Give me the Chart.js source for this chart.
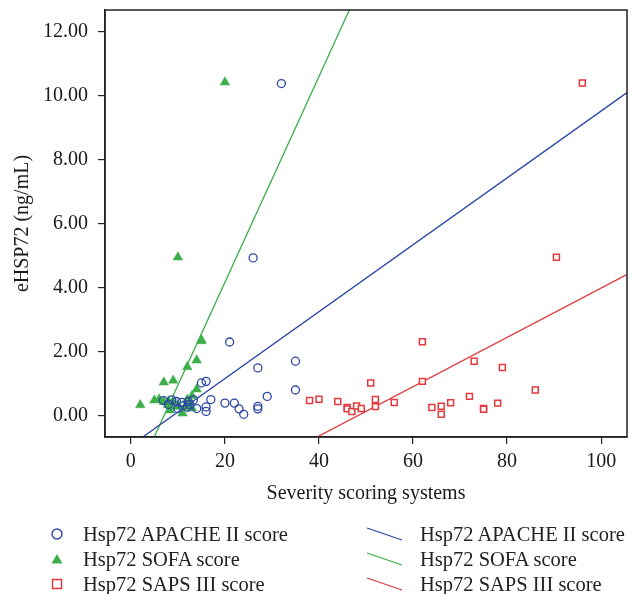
<!DOCTYPE html>
<html>
<head>
<meta charset="utf-8">
<script src="https://cdn.jsdelivr.net/npm/chart.js@4.4.0/dist/chart.umd.min.js"></script>
<style>
    body { margin: 0; background: #fff; }
    #wrap { position: relative; width: 634px; height: 594px; overflow: hidden; }
    #legend { position: absolute; left: 0; top: 0; width: 634px; height: 594px; font-family: 'Liberation Serif', serif; font-size: 20.5px; color: #222; }
    #legend .item { position: absolute; white-space: nowrap; line-height: 22px; }
    #legend svg { position: absolute; }
</style>
</head>
<body>
<div id="wrap">
    <canvas id="chart" width="634" height="594"></canvas>
    <div id="legend"></div>
</div>
<script>
// Severity score vs eHSP72
const apacheX = [6.9, 8.7, 9.7, 10.8, 12.2, 13.3, 8, 11, 12.5, 10, 12, 14, 15, 16, 17, 16, 16, 20, 22, 23, 24, 27, 27, 27, 29, 35, 35, 21, 26, 32];
const apacheY = [0.47, 0.49, 0.44, 0.41, 0.44, 0.49, 0.35, 0.3, 0.35, 0.22, 0.26, 0.22, 1.02, 1.07, 0.5, 0.27, 0.13, 0.39, 0.39, 0.21, 0.04, 1.49, 0.29, 0.21, 0.6, 1.7, 0.8, 2.3, 4.93, 10.38];

const sofaX = [2, 5, 6, 7, 7, 7.9, 8.3, 8, 9, 9, 9.7, 10, 10, 11, 11.5, 12, 12.6, 12, 13, 13, 14, 14, 15, 15, 20];
const sofaY = [0.33, 0.48, 0.51, 0.43, 1.04, 0.33, 0.17, 0.45, 1.1, 0.41, 0.28, 0.33, 4.95, 0.07, 0.28, 0.5, 0.28, 1.52, 0.62, 0.23, 0.82, 1.73, 2.36, 2.33, 10.42];

const sapsX = [38, 40, 44, 46, 46, 47, 48, 49, 51, 52, 52, 56, 62, 62, 64, 66, 66, 68, 72, 73, 75, 75, 78, 79, 86, 90.5, 96];
const sapsY = [0.47, 0.51, 0.44, 0.25, 0.21, 0.13, 0.3, 0.22, 1.02, 0.5, 0.28, 0.41, 2.31, 1.07, 0.25, 0.29, 0.04, 0.4, 0.6, 1.7, 0.22, 0.2, 0.39, 1.5, 0.8, 4.95, 10.4];

// fitted lines, two end points each (clipped by the plot area)
const apacheLineX = [-10, 115];
const apacheLineY = [-1.98, 11.09];
const sofaLineX = [0, 50];
const sofaLineY = [-2.27, 13.82];
const sapsLineX = [30, 115];
const sapsLineY = [-1.41, 5.14];

const xTicks = [0, 20, 40, 60, 80, 100];
const yTicks = [0, 2, 4, 6, 8, 10, 12];

const BLUE = '#2c46a6';
const GREEN = '#3cae4a';
const RED = '#e2393e';

function pts(xs, ys) {
    return xs.map((x, i) => ({ x: x, y: ys[i] }));
}

Chart.defaults.font.family = "'Liberation Serif', serif";
Chart.defaults.color = '#1a1a1a';

// frame round the plot area
const framePlugin = {
    id: 'frame',
    afterDraw(chart) {
        const a = chart.chartArea;
        const c = chart.ctx;
        c.save();
        c.strokeStyle = '#222';
        c.lineWidth = 1.5;
        c.strokeRect(a.left, a.top, a.right - a.left, a.bottom - a.top);
        c.restore();
    }
};

const ctx = document.getElementById('chart').getContext('2d');
const chart = new Chart(ctx, {
    type: 'scatter',
    data: {
        datasets: [
            { label: 'Hsp72 APACHE II score', data: pts(apacheX, apacheY), pointStyle: 'circle', pointRadius: 4,
              borderColor: BLUE, backgroundColor: 'rgba(0,0,0,0)', borderWidth: 1.3, legend: { col: 0, row: 0, kind: 'circle' } },
            { label: 'Hsp72 SOFA score', data: pts(sofaX, sofaY), pointStyle: 'triangle', pointRadius: 5.5,
              borderColor: GREEN, backgroundColor: GREEN, borderWidth: 0.5, legend: { col: 0, row: 1, kind: 'triangle' } },
            { label: 'Hsp72 SAPS III score', data: pts(sapsX, sapsY), pointStyle: 'rect', pointRadius: 4.2,
              borderColor: RED, backgroundColor: 'rgba(255,255,255,0.9)', borderWidth: 1.5, legend: { col: 0, row: 2, kind: 'square' } },
            { label: 'Hsp72 APACHE II score', data: pts(apacheLineX, apacheLineY), showLine: true, pointRadius: 0,
              borderColor: BLUE, borderWidth: 1.3, legend: { col: 1, row: 0, kind: 'line' } },
            { label: 'Hsp72 SOFA score', data: pts(sofaLineX, sofaLineY), showLine: true, pointRadius: 0,
              borderColor: GREEN, borderWidth: 1.3, legend: { col: 1, row: 1, kind: 'line' } },
            { label: 'Hsp72 SAPS III score', data: pts(sapsLineX, sapsLineY), showLine: true, pointRadius: 0,
              borderColor: RED, borderWidth: 1.3, legend: { col: 1, row: 2, kind: 'line' } }
        ]
    },
    options: {
        responsive: false,
        animation: false,
        layout: { padding: { top: 10, right: 7, bottom: 84, left: 0 } },
        plugins: {
            legend: { display: false },
            tooltip: { enabled: false }
        },
        scales: {
            x: {
                type: 'linear',
                min: -5.5,
                max: 105.5,
                afterBuildTicks: s => { s.ticks = xTicks.map(v => ({ value: v })); },
                afterFit: s => { s.height = 73; s.paddingLeft = 0; s.paddingRight = 0; },
                ticks: { font: { size: 20 }, padding: 6, maxRotation: 0 },
                grid: { drawOnChartArea: false, drawTicks: true, tickLength: 7, color: '#222', lineWidth: 1.2 },
                border: { display: true, color: '#222', width: 1.5 },
                title: { display: true, text: 'Severity scoring systems', font: { size: 20 }, padding: { top: 4, bottom: 4 } }
            },
            y: {
                type: 'linear',
                min: -0.67,
                max: 12.68,
                afterBuildTicks: s => { s.ticks = yTicks.map(v => ({ value: v })); },
                afterFit: s => { s.width = 105; s.paddingTop = 0; s.paddingBottom = 0; },
                ticks: { font: { size: 20 }, padding: 10, callback: v => v.toFixed(2) },
                grid: { drawOnChartArea: false, drawTicks: true, tickLength: 7, color: '#222', lineWidth: 1.2 },
                border: { display: true, color: '#222', width: 1.5 },
                title: { display: true, text: 'eHSP72 (ng/mL)', font: { size: 20 }, padding: { top: 11, bottom: 4 } }
            }
        }
    },
    plugins: [framePlugin]
});

// two-column legend under the x axis title
const colIcon = [57, 385];
const colText = [83, 420];
const rowY = [534, 559, 584];
const legendBox = document.getElementById('legend');
chart.data.datasets.forEach(ds => {
    const L = ds.legend;
    const c = ds.borderColor;
    const y = rowY[L.row];
    let icon;
    if (L.kind === 'circle') {
        icon = `<svg width="14" height="14" style="left:${colIcon[0] - 7}px;top:${y - 7}px"><circle cx="7" cy="7" r="5" fill="none" stroke="${c}" stroke-width="1.4"/></svg>`;
    } else if (L.kind === 'triangle') {
        icon = `<svg width="14" height="14" style="left:${colIcon[0] - 7}px;top:${y - 7}px"><polygon points="7,2 12.5,11.5 1.5,11.5" fill="${c}"/></svg>`;
    } else if (L.kind === 'square') {
        icon = `<svg width="14" height="14" style="left:${colIcon[0] - 7}px;top:${y - 7}px"><rect x="2.5" y="2.5" width="9" height="9" fill="none" stroke="${c}" stroke-width="1.5"/></svg>`;
    } else {
        icon = `<svg width="40" height="16" style="left:${colIcon[1] - 20}px;top:${y - 8}px"><line x1="2" y1="2" x2="37" y2="14" stroke="${c}" stroke-width="1.3"/></svg>`;
    }
    legendBox.insertAdjacentHTML('beforeend', icon +
        `<div class="item" style="left:${colText[L.col]}px;top:${y - 11}px">${ds.label}</div>`);
});
</script>
</body>
</html>
